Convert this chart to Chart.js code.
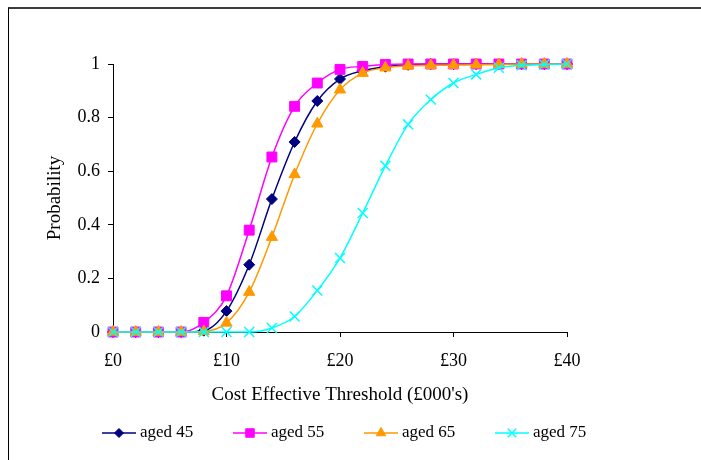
<!DOCTYPE html>
<html>
<head>
<meta charset="utf-8">
<script src="https://cdn.jsdelivr.net/npm/chart.js@4/dist/chart.umd.min.js"></script>
<style>
  html, body { margin: 0; padding: 0; background: #fff; }
  #wrap { position: relative; width: 701px; height: 460px; }
  #frame { position: absolute; left: 8px; top: 7px; right: 0; bottom: 0;
           border-top: 2px solid #3c3c3c; border-left: 1px solid #000; pointer-events: none; }
</style>
</head>
<body>
<div id="wrap">
  <canvas id="myChart" width="701" height="460"></canvas>
  <div id="frame"></div>
</div>
<script>
const thresholds = [0, 2, 4, 6, 8, 10, 12, 14, 16, 18, 20, 22, 24, 26, 28, 30, 32, 34, 36, 38, 40];
const aged45 = [0, 0, 0, 0, 0.005, 0.078, 0.251, 0.496, 0.709, 0.862, 0.944, 0.975, 0.99, 0.997, 1, 1, 1, 1, 1, 1, 1];
const aged55 = [0, 0, 0, 0, 0.036, 0.135, 0.38, 0.653, 0.842, 0.929, 0.98, 0.991, 0.998, 1, 1, 1, 1, 1, 1, 1, 1];
const aged65 = [0, 0, 0, 0, 0.002, 0.034, 0.149, 0.354, 0.588, 0.777, 0.904, 0.966, 0.986, 0.993, 0.995, 0.996, 0.997, 0.998, 1, 1, 1];
const aged75 = [0, 0, 0, 0, 0, 0, 0, 0.015, 0.058, 0.155, 0.276, 0.444, 0.62, 0.775, 0.867, 0.929, 0.961, 0.986, 0.995, 0.998, 1];
const seriesNames = ['aged 45', 'aged 55', 'aged 65', 'aged 75'];
const xTicks = [0, 10, 20, 30, 40];

const serif = "'Liberation Serif', 'Times New Roman', serif";

function pts(vals) {
    return vals.map((v, i) => ({ x: thresholds[i], y: v }));
}

const styles = [
    { color: '#000080', pointStyle: 'rectRot', radius: 5.5 },
    { color: '#ff00ff', pointStyle: 'rect', radius: 7 },
    { color: '#ff9900', pointStyle: 'triangle', radius: 6.5 },
    { color: '#00ffff', pointStyle: 'crossRot', radius: 7 }
];

const allSeries = [aged45, aged55, aged65, aged75];

const datasets = allSeries.map((vals, i) => ({
    label: seriesNames[i],
    data: pts(vals),
    borderColor: styles[i].color,
    backgroundColor: styles[i].color,
    pointBorderColor: styles[i].color,
    pointBackgroundColor: styles[i].color,
    pointStyle: styles[i].pointStyle,
    pointRadius: styles[i].radius,
    pointBorderWidth: i == 3 ? 1.5 : 1,
    borderWidth: 1.5,
    cubicInterpolationMode: 'monotone',
    clip: false,
    order: 3 - i
}));

// legend drawn by hand: line + marker + text, like the spreadsheet legend
const lineLegend = {
    id: 'lineLegend',
    afterDraw(chart) {
        const ctx = chart.ctx;
        const y = 433;
        ctx.save();
        chart.data.datasets.forEach((ds, i) => {
            const x0 = 102 + 131 * i;
            ctx.strokeStyle = ds.borderColor;
            ctx.lineWidth = 1.5;
            ctx.beginPath();
            ctx.moveTo(x0, y);
            ctx.lineTo(x0 + 34, y);
            ctx.stroke();
            ctx.fillStyle = ds.backgroundColor;
            ctx.lineWidth = ds.pointBorderWidth;
            Chart.helpers.drawPoint(ctx, { pointStyle: ds.pointStyle, radius: ds.pointRadius - 1, borderWidth: ds.pointBorderWidth }, x0 + 17, y);
            ctx.fillStyle = '#000';
            ctx.font = '17px ' + serif;
            ctx.textBaseline = 'middle';
            ctx.textAlign = 'left';
            ctx.fillText(ds.label, x0 + 38, y);
        });
        ctx.restore();
    }
};

const config = {
    type: 'line',
    data: { datasets: datasets },
    options: {
        responsive: false,
        animation: false,
        layout: { padding: { left: 0, top: 64, right: 134, bottom: 0 } },
        plugins: {
            legend: { display: false },
            tooltip: { enabled: false }
        },
        scales: {
            x: {
                type: 'linear',
                min: 0,
                max: 40,
                afterFit(scale) { scale.height = 128; },
                afterBuildTicks(scale) { scale.ticks = xTicks.map(v => ({ value: v })); },
                ticks: {
                    color: '#000',
                    font: { family: serif, size: 18 },
                    padding: 13,
                    maxRotation: 0,
                    callback: v => '£' + v
                },
                grid: { drawOnChartArea: false, color: '#000', tickLength: 5 },
                border: { display: true, color: '#000', width: 1 },
                title: {
                    display: true,
                    text: "Cost Effective Threshold (£000's)",
                    color: '#000',
                    font: { family: serif, size: 19 },
                    padding: { top: 0, bottom: 54 }
                }
            },
            y: {
                min: 0,
                max: 1,
                afterFit(scale) { scale.width = 113; },
                ticks: {
                    stepSize: 0.2,
                    color: '#000',
                    font: { family: serif, size: 18 },
                    padding: 8,
                    callback: v => String(Math.round(v * 10) / 10)
                },
                grid: { drawOnChartArea: false, color: '#000', tickLength: 5 },
                border: { display: true, color: '#000', width: 1 },
                title: {
                    display: true,
                    text: 'Probability',
                    color: '#000',
                    font: { family: serif, size: 19 },
                    padding: { top: 44, bottom: 0 }
                }
            }
        }
    },
    plugins: [lineLegend]
};

var myChart = new Chart(document.getElementById('myChart'), config);
</script>
</body>
</html>
